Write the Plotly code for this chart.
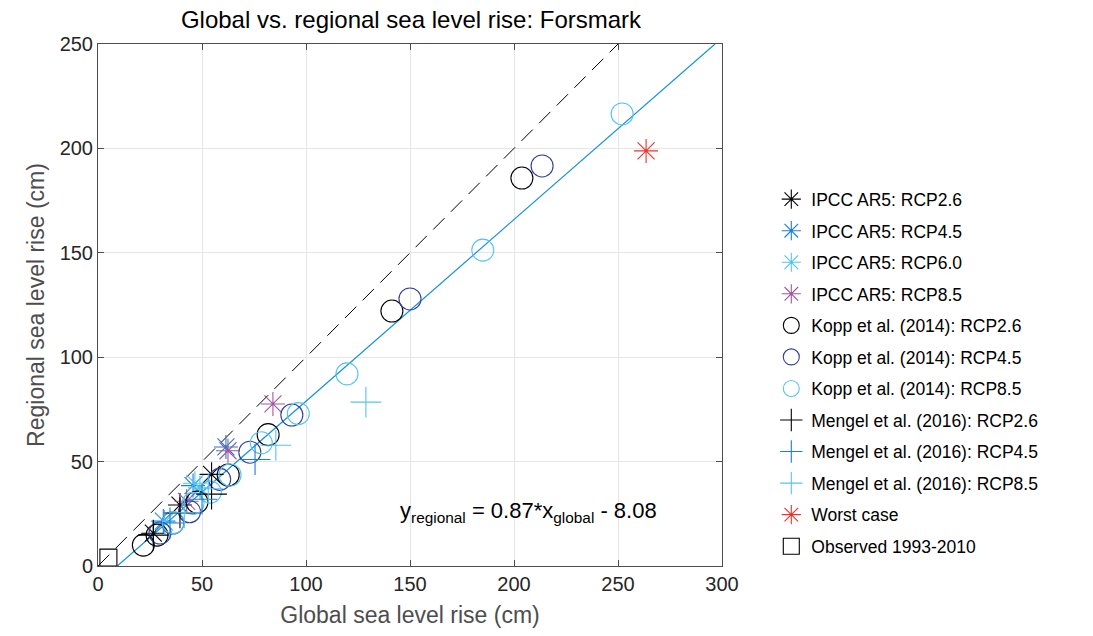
import plotly.graph_objects as go

# ---------------- data (cm) ----------------
ipcc26_x = [26.6, 39.4, 54.6]
ipcc26_y = [15.7, 29.2, 43.9]
ipcc45_x = [31.4, 45.7, 61.5]
ipcc45_y = [21.5, 38.5, 57.0]
ipcc60_x = [32.0, 46.6, 49.0]
ipcc60_y = [21.0, 39.6, 37.5]
ipcc85_x = [42.6, 62.5, 84.1]
ipcc85_y = [31.0, 55.2, 77.6]

kopp26_x = [21.8, 28.4, 47.6, 62.6, 81.8, 141.3, 203.8]
kopp26_y = [10.0, 14.8, 30.6, 43.6, 62.9, 122.1, 185.8]
kopp45_x = [29.8, 36.0, 44.0, 58.5, 73.0, 93.2, 150.0, 213.5]
kopp45_y = [15.8, 20.6, 26.0, 41.5, 54.5, 72.3, 127.9, 191.6]
kopp85_x = [36.2, 45.7, 54.0, 63.5, 78.5, 96.3, 119.7, 185.0, 252.0]
kopp85_y = [20.8, 30.0, 35.4, 43.6, 59.0, 73.0, 92.0, 151.3, 216.5]

mengel26_x = [26.6, 39.4, 54.6]
mengel26_y = [14.8, 25.4, 34.4]
mengel45_x = [34.6, 50.0, 75.5]
mengel45_y = [20.6, 32.0, 51.0]
mengel85_x = [41.5, 53.0, 85.5, 128.8]
mengel85_y = [25.5, 37.0, 57.8, 78.5]

worst_x = [263.5]
worst_y = [198.8]
obs_x = [5.0]
obs_y = [4.0]

fit_slope = 0.87
fit_intercept = -8.08
fit_x = [(0 - fit_intercept) / fit_slope, (250 - fit_intercept) / fit_slope]
one_x = [0, 250]

x_ticks = [0, 50, 100, 150, 200, 250, 300]
y_ticks = [0, 50, 100, 150, 200, 250]

# ---------------- colours ----------------
BLACK = "#000000"
BLUE = "#1a7fd2"
LIGHT = "#55c3f0"
PURPLE = "#a2569f"
DARKBLUE = "#2f3f9c"
RED = "#e8332c"
FIT = "#1591d9"

fig = go.Figure()

# reference lines
fig.add_trace(go.Scatter(x=one_x, y=one_x, mode="lines", showlegend=False,
                         line=dict(color=BLACK, width=1, dash="16px,9px"), hoverinfo="skip"))
fig.add_trace(go.Scatter(x=fit_x, y=[fit_slope * v + fit_intercept for v in fit_x],
                         mode="lines", showlegend=False,
                         line=dict(color=FIT, width=1.2), hoverinfo="skip"))


def add(x, y, name, symbol, color, size, group):
    fig.add_trace(go.Scatter(
        x=x, y=y, mode="markers", name=name, legendgroup=group,
        marker=dict(symbol=symbol, size=size, color=color,
                    line=dict(color=color, width=1.1)),
    ))


add(ipcc26_x, ipcc26_y, "IPCC AR5: RCP2.6", "asterisk-open", BLACK, 20, "a")
add(ipcc45_x, ipcc45_y, "IPCC AR5: RCP4.5", "asterisk-open", BLUE, 20, "b")
add(ipcc60_x, ipcc60_y, "IPCC AR5: RCP6.0", "asterisk-open", LIGHT, 20, "c")
add(ipcc85_x, ipcc85_y, "IPCC AR5: RCP8.5", "asterisk-open", PURPLE, 20, "d")
add(kopp26_x, kopp26_y, "Kopp et al. (2014): RCP2.6", "circle-open", BLACK, 22, "e")
add(kopp45_x, kopp45_y, "Kopp et al. (2014): RCP4.5", "circle-open", DARKBLUE, 22, "f")
add(kopp85_x, kopp85_y, "Kopp et al. (2014): RCP8.5", "circle-open", LIGHT, 22, "g")
add(mengel26_x, mengel26_y, "Mengel et al. (2016): RCP2.6", "cross-thin-open", BLACK, 22, "h")
add(mengel45_x, mengel45_y, "Mengel et al. (2016): RCP4.5", "cross-thin-open", BLUE, 22, "i")
add(mengel85_x, mengel85_y, "Mengel et al. (2016): RCP8.5", "cross-thin-open", LIGHT, 22, "j")
add(worst_x, worst_y, "Worst case", "asterisk-open", RED, 20, "k")
add(obs_x, obs_y, "Observed 1993-2010", "square-open", BLACK, 17, "l")

fig.add_annotation(
    x=144, y=26, xref="x", yref="y", xanchor="left", yanchor="middle",
    text="y<sub>regional</sub> = 0.87*x<sub>global</sub> - 8.08",
    showarrow=False, font=dict(size=22, color="#000000"),
)

axis_common = dict(
    showline=True, linecolor="#4d4d4d", linewidth=1, mirror="ticks",
    ticks="inside", ticklen=6, tickcolor="#4d4d4d", tickwidth=1,
    showgrid=True, gridcolor="#e6e6e6", gridwidth=1, zeroline=False,
    tickfont=dict(size=20, color="#262626"),
)

fig.update_xaxes(range=[0, 300], tickvals=x_ticks, **axis_common,
                 title=dict(text="Global sea level rise (cm)", font=dict(size=23, color="#4d4d4d"),
                            standoff=12))
fig.update_yaxes(range=[0, 250], tickvals=y_ticks, **axis_common,
                 title=dict(text="Regional sea level rise (cm)", font=dict(size=23, color="#4d4d4d"),
                            standoff=8))

fig.update_layout(
    width=1093, height=636,
    margin=dict(l=98, r=371, t=44, b=70),
    paper_bgcolor="white", plot_bgcolor="white",
    font=dict(family="Liberation Sans, Arial, Helvetica, sans-serif", color="#000000"),
    title=dict(text="Global vs. regional sea level rise: Forsmark", x=411 / 1093,
               xanchor="center", y=1 - 20 / 636, yanchor="middle",
               font=dict(size=24, color="#000000")),
    legend=dict(x=1.079, y=0.737, xanchor="left", yanchor="top",
                font=dict(size=17.5, color="#000000"), tracegroupgap=5.8,
                bgcolor="rgba(0,0,0,0)", itemwidth=30),
    showlegend=True,
)

fig.write_html("out.html")
